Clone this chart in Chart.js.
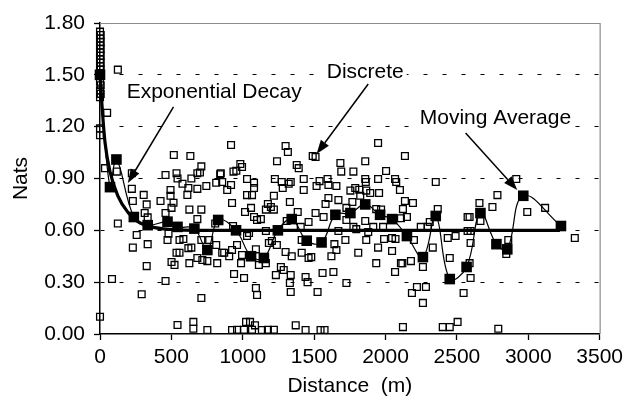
<!DOCTYPE html>
<html>
<head>
<meta charset="utf-8">
<script src="https://cdn.jsdelivr.net/npm/chart.js@4.4.1/dist/chart.umd.min.js"></script>
<style>
html,body{margin:0;padding:0;background:#fff;}
#wrap{width:628px;height:399px;}
</style>
</head>
<body>
<div id="wrap"><canvas id="c" width="628" height="399"></canvas></div>
<script>
// ---- Data ----
const xTicks = [0, 500, 1000, 1500, 2000, 2500, 3000, 3500];
const yTicks = [0.00, 0.30, 0.60, 0.90, 1.20, 1.50, 1.80];

// Discrete observations (distance m, nats)
const discreteX = [
 0,5,0,5,0,5,0,5,0,5,0,5,0,5,0,5,0,125,50,0,
 0,517,633,710,35,118,223,459,536,682,700,842,543,578,640,814,745,682,619,494,223,306,612,494,230,424,327,515,501,626,710,313,459,334,682,125,807,257,480,557,584,473,334,230,619,640,710,765,814,536,557,501,522,626,682,717,752,821,856,327,84,459,292,710,0,543,654,654,752,
 918,1300,1316,1490,1510,1240,983,995,935,955,846,1378,1392,1684,1690,1030,1079,1225,1273,1336,1322,1427,1538,1594,856,918,891,1079,1280,1427,1517,1600,1656,1030,1065,1218,1600,1670,925,1176,1330,1580,1197,1058,1162,1218,1016,1385,1510,1079,1127,1100,1308,1461,1566,1406,932,1162,1670,1044,1030,1204,1413,1719,960,1183,1239,1642,925,870,1092,1300,1413,1656,905,995,1343,1461,1480,1621,988,1113,1162,1267,1287,939,1009,1232,1336,1440,1454,1559,1635,1330,1726,1092,1100,1336,1524,925,960,1009,1023,1051,1065,1086,1134,1176,1218,1371,1440,1545,1573,
 1948,2136,1858,2004,1775,1858,1862,1948,2067,2075,2352,1754,1788,1816,1865,1893,1955,2101,1768,1823,2136,2192,1726,1935,1969,2122,2366,2150,1726,1858,2108,2575,1775,1914,1983,2247,2296,2310,1795,1879,2575,1865,1990,2046,2070,2199,2436,2491,1948,2046,2331,1809,1935,2108,2118,2178,2262,2450,2067,2220,2283,2185,2262,2547,2122,2401,2450,2505,
 2916,2784,2658,2749,3118,2993,2589,2665,2596,3326,2596,2860,2846,2589,2596,2790
];
const discreteY = [
 1.75,1.73,1.71,1.69,1.67,1.65,1.63,1.61,1.59,1.57,1.55,1.53,1.46,1.44,1.41,1.39,1.37,1.53,1.28,1.19,
 1.15,1.036,1.03,0.97,0.96,0.94,0.93,0.92,0.93,0.93,0.935,0.925,0.90,0.87,0.90,0.875,0.857,0.84,0.845,0.833,0.84,0.805,0.805,0.80,0.77,0.77,0.75,0.76,0.73,0.72,0.72,0.70,0.70,0.675,0.665,0.64,0.64,0.573,0.58,0.544,0.55,0.544,0.52,0.50,0.497,0.50,0.544,0.544,0.515,0.47,0.47,0.417,0.40,0.41,0.44,0.428,0.422,0.41,0.47,0.393,0.318,0.307,0.23,0.208,0.10,0.052,0.07,0.03,0.023,
 1.094,1.088,1.053,1.03,1.024,1.0,0.984,0.967,0.94,0.945,0.93,0.978,0.96,0.99,0.94,0.897,0.875,0.897,0.88,0.88,0.87,0.897,0.885,0.897,0.88,0.862,0.833,0.845,0.845,0.833,0.857,0.862,0.857,0.804,0.804,0.80,0.787,0.775,0.758,0.752,0.764,0.752,0.735,0.73,0.72,0.72,0.706,0.706,0.70,0.677,0.665,0.66,0.654,0.648,0.677,0.62,0.625,0.596,0.596,0.585,0.567,0.538,0.544,0.544,0.515,0.527,0.515,0.52,0.486,0.47,0.49,0.475,0.47,0.486,0.45,0.457,0.45,0.44,0.445,0.45,0.41,0.40,0.41,0.388,0.37,0.347,0.324,0.341,0.341,0.33,0.30,0.353,0.359,0.295,0.295,0.266,0.226,0.243,0.243,0.023,0.025,0.025,0.07,0.07,0.025,0.05,0.023,0.025,0.025,0.05,0.023,0.023,0.023,
 1.105,1.03,1.0,0.943,0.94,0.897,0.88,0.897,0.897,0.88,0.88,0.83,0.845,0.835,0.83,0.816,0.816,0.833,0.764,0.80,0.77,0.758,0.73,0.723,0.72,0.723,0.723,0.677,0.66,0.654,0.67,0.677,0.62,0.62,0.62,0.62,0.62,0.648,0.607,0.59,0.596,0.544,0.55,0.556,0.55,0.544,0.556,0.567,0.50,0.48,0.50,0.47,0.41,0.41,0.41,0.422,0.388,0.44,0.359,0.272,0.272,0.237,0.18,0.237,0.04,0.04,0.04,0.07,
 0.897,0.804,0.758,0.735,0.73,0.706,0.677,0.654,0.596,0.556,0.527,0.544,0.463,0.41,0.324,0.03
];

// Moving average (filled squares)
const movAvgX = [0,70,115,237,334,473,543,661,752,828,953,1058,1148,1246,1343,1448,1552,1649,1754,1858,1962,2046,2150,2262,2352,2450,2568,2665,2777,2853,2965,3229];
const movAvgY = [1.50,0.85,1.01,0.677,0.63,0.65,0.62,0.61,0.486,0.66,0.60,0.45,0.44,0.60,0.665,0.54,0.53,0.69,0.70,0.75,0.69,0.665,0.567,0.445,0.683,0.318,0.388,0.70,0.52,0.49,0.80,0.625];

// Exponential decay curve
const expX = [0,15,35,70,125,195,265,360,500,700,1000,3222];
const expY = [1.50,1.31,1.11,0.94,0.80,0.705,0.65,0.62,0.605,0.60,0.60,0.60];

// Annotation labels (anchored in data units)
const labels = [
  {text:'Exponential Decay', x:800, y:1.40, from:[515,1.314], to:[195,0.874]},
  {text:'Discrete', x:1858, y:1.516, from:[1879,1.447], to:[1517,1.042]},
  {text:'Moving Average', x:2770, y:1.25, from:[2561,1.163], to:[2923,0.833]}
];

const FONT = '"Liberation Sans", Arial, Helvetica, sans-serif';
Chart.defaults.font.family = FONT;
Chart.defaults.font.size = 21;
Chart.defaults.color = '#000';

function pts(xs, ys){ return xs.map((x,i)=>({x:x, y:ys[i]})); }

const frame = {
  id:'frame',
  beforeDatasetsDraw(chart){
    const a = chart.chartArea, ctx = chart.ctx;
    ctx.save();
    ctx.strokeStyle = '#8c8c8c';
    ctx.lineWidth = 1.2;
    ctx.beginPath();
    ctx.moveTo(a.left, a.top+0.5);
    ctx.lineTo(a.right+0.5, a.top+0.5);
    ctx.lineTo(a.right+0.5, a.bottom);
    ctx.stroke();
    ctx.restore();
  }
};

const notes = {
  id:'notes',
  afterDatasetsDraw(chart){
    const ctx = chart.ctx, xs = chart.scales.x, ys = chart.scales.y;
    ctx.save();
    labels.forEach(l=>{
      const x1 = xs.getPixelForValue(l.from[0]), y1 = ys.getPixelForValue(l.from[1]);
      const x2 = xs.getPixelForValue(l.to[0]), y2 = ys.getPixelForValue(l.to[1]);
      const ang = Math.atan2(y2-y1, x2-x1);
      const len = 14, w = 5;
      const bx = x2 - len*Math.cos(ang), by = y2 - len*Math.sin(ang);
      ctx.strokeStyle = '#000'; ctx.lineWidth = 1.5;
      ctx.beginPath(); ctx.moveTo(x1,y1); ctx.lineTo(bx,by); ctx.stroke();
      ctx.fillStyle = '#000';
      ctx.beginPath();
      ctx.moveTo(x2,y2);
      ctx.lineTo(bx + w*Math.sin(ang), by - w*Math.cos(ang));
      ctx.lineTo(bx - w*Math.sin(ang), by + w*Math.cos(ang));
      ctx.closePath(); ctx.fill();
      ctx.font = '21px ' + FONT;
      ctx.textAlign = 'center'; ctx.textBaseline = 'middle';
      const tx = xs.getPixelForValue(l.x), ty = ys.getPixelForValue(l.y);
      const tw = ctx.measureText(l.text).width;
      ctx.fillStyle = '#fff';
      ctx.fillRect(tx - tw/2 - 3, ty - 11, tw + 6, 22);
      ctx.fillStyle = '#000';
      ctx.fillText(l.text, tx, ty);
    });
    ctx.restore();
  }
};

new Chart(document.getElementById('c'), {
  type:'scatter',
  data:{
    datasets:[
      {
        label:'Moving Average',
        data:pts(movAvgX, movAvgY),
        showLine:true, clip:false,
        borderColor:'#000', borderWidth:1.2,
        tension:0.4,
        pointStyle:'rect', pointRadius:7.5,
        pointBackgroundColor:'#000', pointBorderColor:'#000', pointBorderWidth:0
      },
      {
        label:'Exponential Decay',
        data:pts(expX, expY),
        showLine:true, clip:false,
        borderColor:'#000', borderWidth:3.2,
        cubicInterpolationMode:'monotone',
        pointRadius:0
      },
      {
        label:'Discrete',
        data:pts(discreteX, discreteY),
        showLine:false, clip:false,
        pointStyle:'rect', pointRadius:4.8,
        pointBackgroundColor:'rgba(255,255,255,0)',
        pointBorderColor:'#000', pointBorderWidth:1.3
      }
    ]
  },
  options:{
    responsive:false,
    animation:false,
    events:[],
    layout:{padding:{left:0, right:25, top:23, bottom:0}},
    plugins:{legend:{display:false}, tooltip:{enabled:false}},
    scales:{
      x:{
        type:'linear', min:0, max:3500,
        afterBuildTicks(s){ s.ticks = xTicks.map(v=>({value:v})); },
        afterFit(s){ s.height = 65; },
        ticks:{ padding:5, maxRotation:0, autoSkip:false, callback:v=>String(v), color:'#000', font:{size:21} },
        grid:{ drawOnChartArea:false, drawTicks:true, tickLength:6, color:'#000', tickWidth:1.3 },
        border:{ display:true, color:'#000', width:1.5 },
        title:{ display:true, text:'Distance  (m)', color:'#000', font:{size:21}, padding:{top:0,bottom:0} }
      },
      y:{
        type:'linear', min:0, max:1.8,
        afterBuildTicks(s){ s.ticks = yTicks.map(v=>({value:v})); },
        afterFit(s){ s.width = 100; },
        ticks:{ padding:9, autoSkip:false, callback:v=>Number(v).toFixed(2), color:'#000', font:{size:21} },
        grid:{
          drawOnChartArea:true, drawTicks:true, tickLength:6, tickWidth:1.3,
          tickColor:'#000', tickBorderDash:[],
          color:(c)=> (c.tick && (c.tick.value===0 || c.tick.value>=1.79)) ? 'rgba(0,0,0,0)' : '#000',
          lineWidth:1
        },
        border:{ display:true, color:'#000', width:1.5, dash:[4,15] },
        title:{ display:true, text:'Nats', color:'#000', font:{size:21}, padding:{top:9,bottom:0} }
      }
    }
  },
  plugins:[frame, notes]
});
</script>
</body>
</html>
